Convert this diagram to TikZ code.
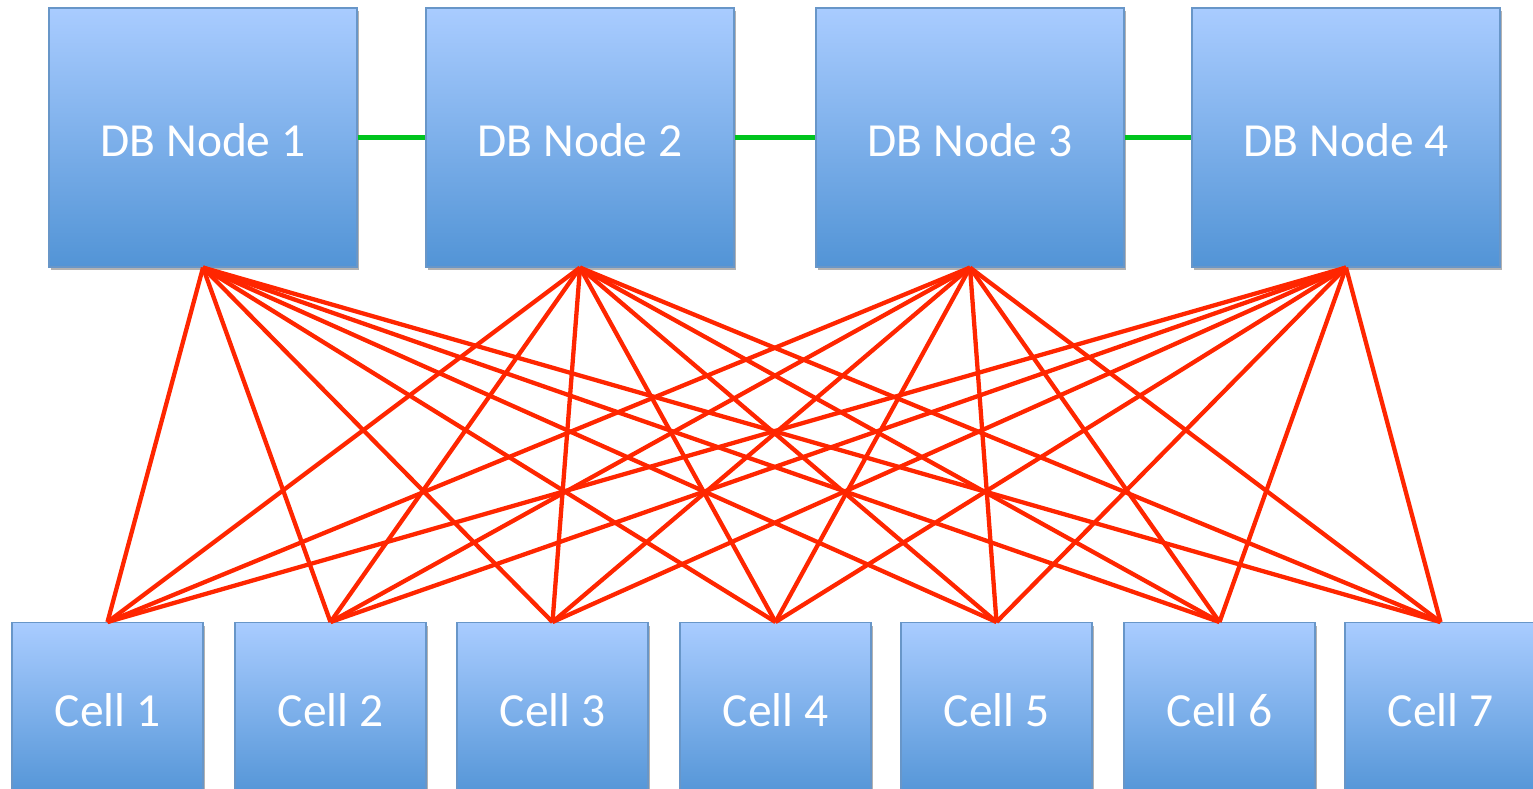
\documentclass[tikz,border=0pt]{standalone}
\usepackage{fontspec}
\setmainfont{Carlito}
\usetikzlibrary{shadows}
\definecolor{boxtop}{RGB}{169,204,255}
\definecolor{boxbot}{RGB}{82,148,214}
\definecolor{boxedge}{RGB}{104,150,200}
\definecolor{linkred}{RGB}{255,38,0}
\definecolor{linkgreen}{RGB}{0,196,30}
\tikzset{
  box/.style={draw=boxedge, line width=1.2pt, top color=boxtop, bottom color=boxbot,
    text=white, font=\fontsize{47.5}{52}\selectfont, inner sep=0pt,
    drop shadow={shadow xshift=2pt, shadow yshift=-3pt, opacity=0.3, fill=black}},
  dbbox/.style={box, minimum width=308pt, minimum height=259pt,
    text height=38pt, text depth=0pt},
  cellbox/.style={box, minimum width=191pt, minimum height=176pt},
  redlink/.style={draw=linkred, line width=4.3pt},
  greenlink/.style={draw=linkgreen, line width=4.3pt}
}
\begin{document}
\begin{tikzpicture}[x=1pt, y=-1pt]
\useasboundingbox (0,0) rectangle (1533,788);
% database nodes
\foreach \i/\x in {1/203,2/580,3/970,4/1346}
  \node[dbbox] (db\i) at (\x,137.5) {DB Node \i};
% cells
\foreach \i/\x in {1/107.5,2/330.5,3/552.5,4/775.5,5/996.5,6/1219.5,7/1440.5}
  \node[cellbox, anchor=north] (c\i) at (\x,622) {Cell \i};
% links between database nodes
\draw[greenlink] (db1.east) -- (db2.west);
\draw[greenlink] (db2.east) -- (db3.west);
\draw[greenlink] (db3.east) -- (db4.west);
% every database node reaches every cell
\foreach \d in {1,...,4}
  \foreach \c in {1,...,7}
    \draw[redlink] (db\d.south) -- (c\c.north);
\end{tikzpicture}
\end{document}
